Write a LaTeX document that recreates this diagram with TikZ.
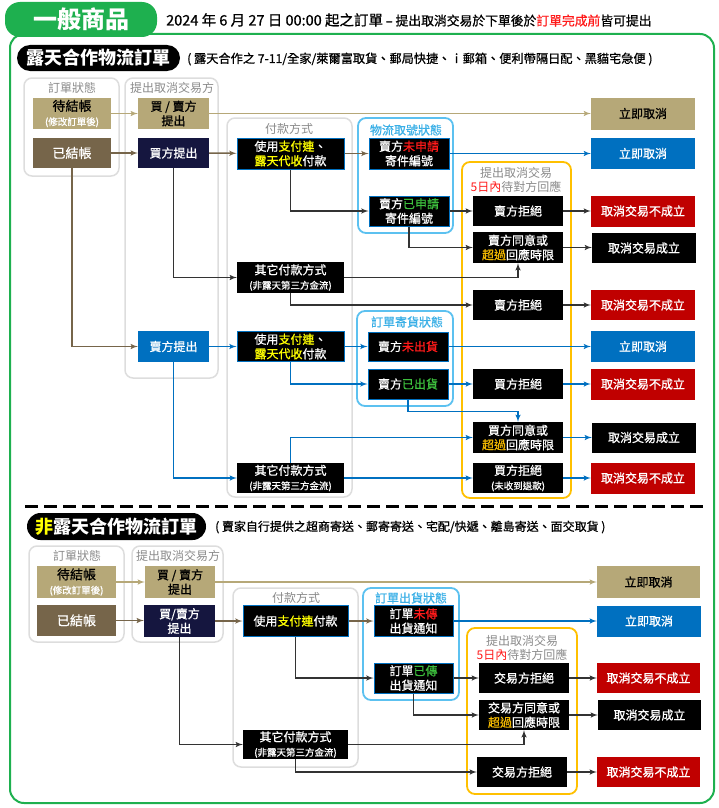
\documentclass[tikz,border=0pt]{standalone}
\usepackage{fontspec}
\setmainfont{Noto Sans CJK TC}
\newfontfamily\boxfnt[FakeBold=0.8]{Noto Sans CJK TC}
\usetikzlibrary{arrows}
\definecolor{grn}{HTML}{1EB04F}
\definecolor{tanc}{HTML}{B6A878}
\definecolor{brnc}{HTML}{76654A}
\definecolor{navc}{HTML}{15163F}
\definecolor{bluc}{HTML}{0070C0}
\definecolor{redc}{HTML}{C00000}
\definecolor{skyc}{HTML}{5CC1F0}
\definecolor{skyt}{HTML}{3AAFE6}
\definecolor{orgc}{HTML}{FFC000}
\definecolor{gryc}{HTML}{DDDDDD}
\definecolor{txtg}{HTML}{8A8A8A}
\definecolor{lnk}{HTML}{333333}
\definecolor{ylw}{HTML}{FFFF00}
\definecolor{grt}{HTML}{3DBE3D}
\definecolor{gld}{HTML}{F2B800}
\definecolor{rdt}{HTML}{FF1A1A}
\newcommand{\smtxt}{\fontsize{9.5}{11}\selectfont}
\tikzstyle{box}=[inner sep=0pt, align=center, text=white, font=\boxfnt\fontsize{12}{14.5}\selectfont]
\tikzstyle{tanbox}=[box, fill=tanc, text=black]
\tikzstyle{brnbox}=[box, fill=brnc]
\tikzstyle{navbox}=[box, fill=navc]
\tikzstyle{blubox}=[box, fill=bluc]
\tikzstyle{blkbox}=[box, fill=black]
\tikzstyle{stbox}=[box, fill=black, draw=bluc, line width=1pt]
\tikzstyle{nobox}=[box, fill=redc]
\tikzstyle{hdr}=[inner sep=0pt, align=center, text=txtg, font=\fontsize{12}{14.5}\selectfont]
\tikzstyle{skyhdr}=[hdr, text=skyt, font=\boxfnt\fontsize{12}{14.5}\selectfont]
\tikzstyle{colfr}=[draw=gryc, line width=1.5pt, rounded corners=8pt]
\tikzstyle{skyfr}=[draw=skyc, line width=1.8pt, rounded corners=8pt]
\tikzstyle{orgfr}=[draw=orgc, line width=1.8pt, rounded corners=8pt]
\tikzstyle{ln}=[->, line width=1.5pt, draw=lnk]
\tikzstyle{tanln}=[ln, draw=tanc]
\tikzstyle{brnln}=[ln, draw=brnc]
\tikzstyle{bluln}=[ln, draw=bluc]

\begin{document}
\begin{tikzpicture}[x=1pt,y=-1pt,>=latex']
  \useasboundingbox (0,0) rectangle (718,808);
  \draw [draw=grn, line width=2pt, rounded corners=14pt] (10,34) rectangle (714,803);
  \node [fill=grn, rounded corners=15pt, minimum width=152pt, minimum height=35pt, text=white, font=\fontsize{24}{26}\selectfont\bfseries] (tab) at (81,19.5) {一般商品};
  \node [anchor=west, inner sep=0pt, font=\boxfnt\fontsize{12.8}{14}\selectfont] (ttl) at (166,20) {{\fontsize{14.5}{16}\selectfont 2024 年 6 月 27 日 00:00 起之訂單} – 提出取消交易於下單後於{\color{rdt}訂單完成前}皆可提出};

  \node [fill=black, rounded corners=13pt, minimum width=163pt, minimum height=26pt, inner sep=0pt, text=white, font=\fontsize{18}{20}\selectfont\bfseries] (sec1) at (98.5,58) {露天合作物流訂單};
  \node [anchor=west, inner sep=0pt, font=\boxfnt\fontsize{12.2}{14}\selectfont] (note1) at (187,59) {( 露天合作之 7-11/全家/萊爾富取貨、郵局快捷、ｉ郵箱、便利帶隔日配、黑貓宅急便 )};

  \draw [colfr] (24,78) rectangle (119,176);
  \draw [colfr] (125,78) rectangle (218,378);
  \draw [colfr] (227,118) rectangle (352,497);
  \draw [skyfr] (358,118) rectangle (453,233);
  \draw [skyfr] (357,311) rectangle (453,406);
  \draw [orgfr] (462,162) rectangle (571,498);
  \node [hdr] (h1) at (72,88) {訂單狀態};
  \node [hdr] (h2) at (172,88) {提出取消交易方};
  \node [hdr] (h3) at (289,129) {付款方式};
  \node [skyhdr] (h4) at (406,130) {物流取號狀態};
  \node [hdr] (h5) at (516,180) {提出取消交易\\{\color{rdt}5日內}待對方回應};
  \node [skyhdr] (h6) at (407,322) {訂單寄貨狀態};

  \node [tanbox, minimum width=78pt, minimum height=31pt] (dj1) at (72,113.5) {\fontsize{13}{14}\selectfont 待結帳\\{\color{white}\smtxt (修改訂單後)}};
  \node [brnbox, minimum width=78pt, minimum height=30pt] (yj1) at (72,153) {\fontsize{13}{14}\selectfont 已結帳};
  \node [tanbox, minimum width=71pt, minimum height=31pt] (bs1) at (173.5,113.5) {買 / 賣方\\提出};
  \node [navbox, minimum width=71pt, minimum height=30pt] (bt1) at (173.5,153) {買方提出};
  \node [stbox, minimum width=107pt, minimum height=31pt] (pay1) at (290.5,153.5) {使用{\color{ylw}支付連}、\\{\color{ylw}露天代收}付款};
  \node [blkbox, minimum width=107pt, minimum height=31pt] (oth1) at (290.5,277.5) {其它付款方式\\\smtxt (非露天第三方金流)};
  \node [stbox, minimum width=80pt, minimum height=31pt] (no1) at (409,153.5) {賣方{\color{rdt}未申請}\\寄件編號};
  \node [stbox, minimum width=80pt, minimum height=30pt] (yes1) at (409,211) {賣方{\color{grt}已申請}\\寄件編號};
  \node [blkbox, minimum width=90pt, minimum height=30pt] (rej1) at (518,211) {賣方拒絕};
  \node [blkbox, minimum width=90pt, minimum height=31pt] (agr1) at (518,247.5) {賣方同意或\\{\color{gld}超過}回應時限};
  \node [blkbox, minimum width=90pt, minimum height=30pt] (rej2) at (518,305) {賣方拒絕};
  \node [tanbox, minimum width=104pt, minimum height=32pt] (cn1) at (643,113.5) {立即取消};
  \node [blubox, minimum width=104pt, minimum height=31pt] (cn2) at (643,153.5) {立即取消};
  \node [nobox, minimum width=104pt, minimum height=31pt] (f1) at (643,211) {取消交易不成立};
  \node [blkbox, minimum width=104pt, minimum height=30pt] (s1) at (644,248) {取消交易成立};
  \node [nobox, minimum width=104pt, minimum height=30pt] (f2) at (643,305) {取消交易不成立};
  \node [blubox, minimum width=71pt, minimum height=31pt] (st1) at (173.5,346.5) {賣方提出};
  \node [stbox, minimum width=107pt, minimum height=30pt] (pay2) at (290.5,346.5) {使用{\color{ylw}支付連}、\\{\color{ylw}露天代收}付款};
  \node [blkbox, minimum width=107pt, minimum height=30pt] (oth2) at (290.5,478) {其它付款方式\\\smtxt (非露天第三方金流)};
  \node [stbox, minimum width=80pt, minimum height=29pt] (no2) at (408,346.5) {賣方{\color{rdt}未出貨}};
  \node [stbox, minimum width=80pt, minimum height=30pt] (yes2) at (408,384) {賣方{\color{grt}已出貨}};
  \node [blkbox, minimum width=90pt, minimum height=30pt] (rej3) at (518,384) {買方拒絕};
  \node [blkbox, minimum width=90pt, minimum height=31pt] (agr2) at (518,437.5) {買方同意或\\{\color{gld}超過}回應時限};
  \node [blkbox, minimum width=90pt, minimum height=30pt] (rej4) at (518,478) {買方拒絕\\\smtxt (未收到退款)};
  \node [blubox, minimum width=104pt, minimum height=31pt] (cn3) at (643,346.5) {立即取消};
  \node [nobox, minimum width=104pt, minimum height=31pt] (f3) at (643,384) {取消交易不成立};
  \node [blkbox, minimum width=104pt, minimum height=30pt] (s2) at (644,437.5) {取消交易成立};
  \node [nobox, minimum width=104pt, minimum height=31pt] (f4) at (643,478) {取消交易不成立};

  \draw [tanln] (dj1) -- (bs1);
  \draw [tanln] (bs1) -- (cn1);
  \draw [brnln] (yj1) -- (bt1);
  \draw [brnln] (bt1) -- (pay1);
  \draw [brnln] (pay1) -- (no1);
  \draw [bluln] (no1) -- (cn2);
  \draw [ln] (bt1.south) |- (oth1.west);
  \draw [ln] (pay1.south) |- (yes1.west);
  \draw [ln] (yes1) -- (rej1);
  \draw [ln] (rej1) -- (f1);
  \draw [ln] (yes1.south) |- (agr1.west);
  \draw [ln] (agr1) -- (s1.west |- agr1);
  \draw [ln] (oth1.east) -| (agr1.south);
  \draw [ln] (oth1.south) |- (rej2.west);
  \draw [ln] (rej2) -- (f2);
  \draw [brnln] (yj1.south) |- (st1.west);
  \draw [bluln] (st1) -- (pay2);
  \draw [bluln] (st1.south) |- (oth2.west);
  \draw [bluln] (pay2) -- (no2);
  \draw [bluln] (no2) -- (cn3);
  \draw [bluln] (pay2.south) |- (yes2.west);
  \draw [bluln] (yes2) -- (rej3);
  \draw [bluln] (rej3) -- (f3);
  \draw [bluln] (yes2.south) -- ++(0,12) -| (agr2.north);
  \draw [bluln] (oth2.north) |- (agr2.west);
  \draw [bluln] (agr2) -- (s2);
  \draw [bluln] (oth2) -- (rej4);
  \draw [bluln] (rej4) -- (f4);

  \draw [dash pattern=on 13pt off 6pt, line width=3pt] (25,506) -- (705,506);

  \node [fill=black, rounded corners=13.5pt, minimum width=179pt, minimum height=27pt, inner sep=0pt, text=white, font=\fontsize{18}{20}\selectfont\bfseries] (sec2) at (116.5,526.5) {{\color{ylw}非}露天合作物流訂單};
  \node [anchor=west, inner sep=0pt, font=\boxfnt\fontsize{12}{14}\selectfont] (note2) at (215,527) {( 賣家自行提供之超商寄送、郵寄寄送、宅配/快遞、離島寄送、面交取貨 )};

  \draw [colfr] (29,546) rectangle (124,642);
  \draw [colfr] (132,546) rectangle (223,642);
  \draw [colfr] (233,588) rectangle (358,767);
  \draw [skyfr] (363,588) rectangle (459,700);
  \draw [orgfr] (467,628) rectangle (577,794);
  \node [hdr] (k1) at (77,556) {訂單狀態};
  \node [hdr] (k2) at (178,556) {提出取消交易方};
  \node [hdr] (k3) at (296,598) {付款方式};
  \node [skyhdr] (k4) at (411,598) {訂單出貨狀態};
  \node [hdr] (k5) at (522,648) {提出取消交易\\{\color{rdt}5日內}待對方回應};

  \node [tanbox, minimum width=79pt, minimum height=32pt] (dj2) at (76.5,582) {\fontsize{13}{14}\selectfont 待結帳\\{\color{white}\smtxt (修改訂單後)}};
  \node [brnbox, minimum width=79pt, minimum height=31pt] (yj2) at (76.5,620.5) {\fontsize{13}{14}\selectfont 已結帳};
  \node [tanbox, minimum width=70pt, minimum height=32pt] (bs2) at (180,582) {買 / 賣方\\提出};
  \node [navbox, minimum width=71pt, minimum height=32pt] (bs3) at (179.5,621) {買/賣方\\提出};
  \node [stbox, minimum width=105pt, minimum height=31pt] (pay3) at (295.5,621) {使用{\color{ylw}支付連}付款};
  \node [blkbox, minimum width=105pt, minimum height=29pt] (oth3) at (295.5,744.5) {其它付款方式\\\smtxt (非露天第三方金流)};
  \node [stbox, minimum width=79pt, minimum height=31pt] (no3) at (413.5,621) {訂單{\color{rdt}未傳}\\出貨通知};
  \node [stbox, minimum width=79pt, minimum height=30pt] (yes3) at (413.5,678) {訂單{\color{grt}已傳}\\出貨通知};
  \node [blkbox, minimum width=90pt, minimum height=30pt] (rej5) at (524,678) {交易方拒絕};
  \node [blkbox, minimum width=90pt, minimum height=30pt] (agr3) at (524,715) {交易方同意或\\{\color{gld}超過}回應時限};
  \node [blkbox, minimum width=90pt, minimum height=30pt] (rej6) at (522,772) {交易方拒絕};
  \node [tanbox, minimum width=103pt, minimum height=32pt] (cn4) at (648.5,582) {立即取消};
  \node [blubox, minimum width=104pt, minimum height=31pt] (cn5) at (649,621) {立即取消};
  \node [nobox, minimum width=103pt, minimum height=30pt] (f5) at (648.5,678) {取消交易不成立};
  \node [blkbox, minimum width=103pt, minimum height=30pt] (s3) at (649.5,715) {取消交易成立};
  \node [nobox, minimum width=103pt, minimum height=30pt] (f6) at (648.5,772) {取消交易不成立};

  \draw [tanln] (dj2) -- (bs2);
  \draw [tanln] (bs2) -- (cn4);
  \draw [brnln] (yj2) -- (bs3.west |- yj2);
  \draw [brnln] (bs3.east |- pay3) -- (pay3);
  \draw [brnln] (pay3) -- (no3);
  \draw [bluln] (no3) -- (cn5);
  \draw [ln] (bs3.south) |- (oth3.west);
  \draw [ln] (pay3.south) |- (yes3.west);
  \draw [ln] (yes3) -- (rej5);
  \draw [ln] (rej5) -- (f5);
  \draw [ln] (yes3.south) |- (agr3.west);
  \draw [ln] (agr3) -- (s3);
  \draw [ln] (oth3.east) -| (agr3.south);
  \draw [ln] (oth3.south) |- (rej6.west);
  \draw [ln] (rej6) -- (f6);
\end{tikzpicture}
\end{document}
